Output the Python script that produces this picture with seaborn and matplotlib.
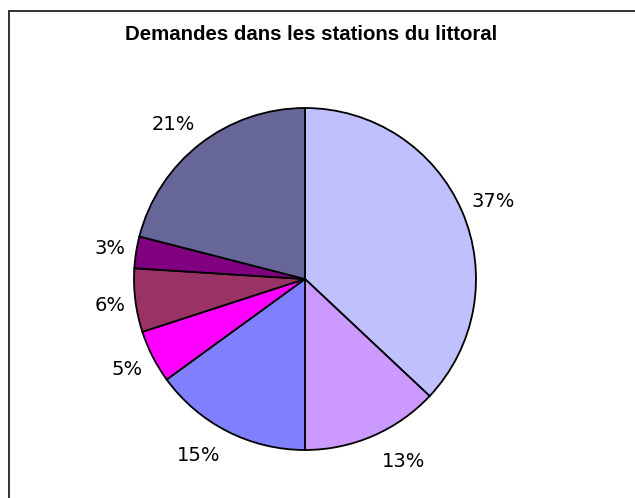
import matplotlib
matplotlib.use("Agg")
import matplotlib.pyplot as plt
import seaborn as sns
import numpy as np
from matplotlib.patches import Rectangle

# Data
title = "Demandes dans les stations du littoral"
shares = [37, 13, 15, 5, 6, 3, 21]
colors = ["#C0C0FF", "#CC99FF", "#8080FF", "#FF00FF", "#993366", "#800080", "#666699"]

# label placement tweaks (radius in pie units, angle shift in degrees)
label_r = [1.19, 1.21, 1.205, 1.17, 1.15, 1.155, 1.19]
label_shift = [-1, 5, -4, 0, 0.5, 0, 2.6]

sns.set_theme(style="white")
plt.rcParams['font.family'] = ['DejaVu Sans']

W, H = 635, 498
fig = plt.figure(figsize=(W / 100, H / 100), dpi=100)

# pie centre / radius in pixels
cx, cy, R = 305, 279, 171
S = 200
ax = fig.add_axes([(cx - S) / W, (H - cy - S) / H, 2 * S / W, 2 * S / H])
wedges, texts = ax.pie(shares, colors=colors, startangle=90, counterclock=False,
                       labels=[f"{v}%" for v in shares],
                       wedgeprops=dict(edgecolor="black", linewidth=1.3),
                       textprops=dict(fontsize=14, color="black"))
for w, t, r, d in zip(wedges, texts, label_r, label_shift):
    ang = np.deg2rad((w.theta1 + w.theta2) / 2 + d)
    t.set_position((r * np.cos(ang), r * np.sin(ang)))
    t.set_ha("center")
    t.set_va("center")
ax.set_xlim(-S / R, S / R)
ax.set_ylim(-S / R, S / R)
ax.set_aspect("equal")
ax.axis("off")

# chart frame (only top and left edge inside the image)
fig.patches.append(Rectangle((9 / W, -0.1), 1.2, (H - 11) / H + 0.1,
                             transform=fig.transFigure, fill=False,
                             edgecolor="#222222", linewidth=1.3))

fig.text(311 / W, 1 - 40 / H, title, ha="center", va="baseline", color="black",
         fontsize=14.7, fontweight="bold", family=["Liberation Sans", "DejaVu Sans"])

plt.savefig("out.png", dpi=100)
